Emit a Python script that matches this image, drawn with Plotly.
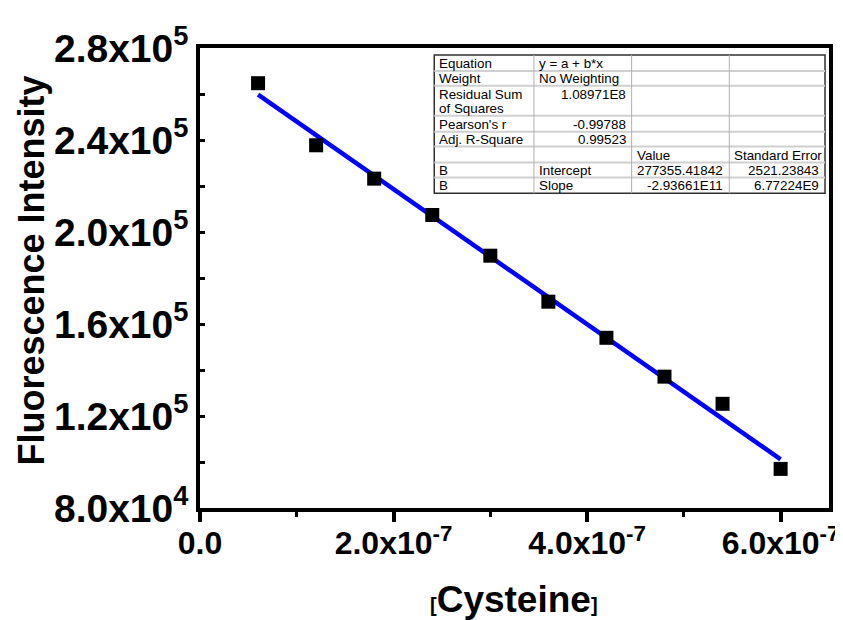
import plotly.graph_objects as go

# ---- data ----
cysteine = [0.6e-7, 1.2e-7, 1.8e-7, 2.4e-7, 3.0e-7, 3.6e-7, 4.2e-7, 4.8e-7, 5.4e-7, 6.0e-7]
intensity = [264700, 237700, 223200, 207400, 189700, 169700, 154000, 137100, 125300, 97000]

fit_intercept = 277355.41842
fit_slope = -2.93661e11

x_tickvals = [0, 2e-7, 4e-7, 6e-7]
x_ticktext = ["0.0", "2.0x10<sup>-7</sup>", "4.0x10<sup>-7</sup>", "6.0x10<sup>-7</sup>"]
y_tickvals = [8e4, 1.2e5, 1.6e5, 2.0e5, 2.4e5, 2.8e5]
y_ticktext = ["8.0x10<sup>4</sup>", "1.2x10<sup>5</sup>", "1.6x10<sup>5</sup>",
              "2.0x10<sup>5</sup>", "2.4x10<sup>5</sup>", "2.8x10<sup>5</sup>"]

table_col1 = ["Equation", "Weight", "Residual Sum", "Pearson's r", "Adj. R-Square", "", "B", "B"]
table_col2 = ["y = a + b*x", "No Weighting", "1.08971E8", "-0.99788", "0.99523", "", "Intercept", "Slope"]
table_col3 = ["", "", "", "", "", "Value", "277355.41842", "-2.93661E11"]
table_col4 = ["", "", "", "", "", "Standard Error", "2521.23843", "6.77224E9"]
table_col1_wrap = "of Squares"

# ---- layout geometry (pixels) ----
W, H = 843, 620
L, R, T, B = 192, 823, 38, 500


def px(x):
    return (x - L) / (R - L)


def py(y):
    return (B - y) / (B - T)


FONT = "Liberation Sans, Arial, Helvetica, sans-serif"

fig = go.Figure()

fit_x = [cysteine[0], cysteine[-1]]
fit_y = [fit_intercept + fit_slope * v for v in fit_x]
fig.add_trace(go.Scatter(x=fit_x, y=fit_y, mode="lines",
                         line=dict(color="#0000ff", width=4.5), showlegend=False))
fig.add_trace(go.Scatter(x=cysteine, y=intensity, mode="markers",
                         marker=dict(symbol="square", size=14, color="black"),
                         showlegend=False))

fig.update_layout(
    width=W, height=H,
    margin=dict(l=L, r=W - R, t=T, b=H - B),
    paper_bgcolor="white", plot_bgcolor="white",
    font=dict(family=FONT, color="black"),
    showlegend=False,
)

fig.update_xaxes(
    range=[0, 6.5e-7], tickmode="array", tickvals=x_tickvals, ticktext=x_ticktext,
    showgrid=False, zeroline=False, showline=True, linecolor="black", linewidth=3.5, mirror=True,
    ticks="outside", ticklen=10, tickwidth=3.5, tickcolor="black",
    minor=dict(tickmode="linear", tick0=0, dtick=1e-7, ticks="outside", ticklen=5, tickwidth=3, tickcolor="black"),
    tickfont=dict(family=FONT, size=32, color="black", weight="bold"),
    ticklabeloverflow="allow", ticklabelstandoff=-6,
)
fig.update_yaxes(
    range=[8e4, 2.8e5], tickmode="array", tickvals=y_tickvals, ticktext=y_ticktext,
    showgrid=False, zeroline=False, showline=True, linecolor="black", linewidth=3.5, mirror=True,
    ticks="inside", ticklen=5, tickwidth=3, tickcolor="black",
    minor=dict(tickmode="linear", tick0=8e4, dtick=2e4, ticks="inside", ticklen=5, tickwidth=3, tickcolor="black"),
    tickfont=dict(family=FONT, size=39, color="black", weight="bold"),
    ticklabeloverflow="allow",
)

annotations = []
# axis titles
annotations.append(dict(
    text="Fluorescence Intensity", xref="paper", yref="paper", x=px(22), y=py(262),
    textangle=-90, showarrow=False, xanchor="center", yanchor="middle",
    font=dict(family=FONT, size=36, color="black", weight="bold")))
annotations.append(dict(
    text="<span style='font-size:20px'>[</span>Cysteine<span style='font-size:20px'>]</span>",
    xref="paper", yref="paper", x=px(507), y=py(592), showarrow=False,
    xanchor="center", yanchor="middle",
    font=dict(family=FONT, size=37, color="black", weight="bold")))

# ---- fit-result table ----
col_edges = [427, 527, 625, 723, 819]
row_edges = [45, 61, 76, 106, 122, 137, 153, 168, 184]
shapes = []
shapes.append(dict(type="rect", xref="paper", yref="paper",
                   x0=px(col_edges[0]), x1=px(col_edges[-1]), y0=py(row_edges[0]), y1=py(row_edges[-1]),
                   fillcolor="white", line=dict(color="#303030", width=1.5), layer="above"))
for yv in row_edges[1:-1]:
    shapes.append(dict(type="line", xref="paper", yref="paper",
                       x0=px(col_edges[0]), x1=px(col_edges[-1]), y0=py(yv), y1=py(yv),
                       line=dict(color="#d0d0d0", width=2), layer="above"))
for xv in col_edges[1:-1]:
    shapes.append(dict(type="line", xref="paper", yref="paper",
                       x0=px(xv), x1=px(xv), y0=py(row_edges[0]), y1=py(row_edges[-1]),
                       line=dict(color="#b0b0b0", width=1), layer="above"))


def is_num(s):
    try:
        float(s)
        return True
    except ValueError:
        return False


TFONT = dict(family=FONT, size=13.4, color="black")
for ci, col in enumerate([table_col1, table_col2, table_col3, table_col4]):
    for ri, txt in enumerate(col):
        if not txt:
            continue
        top, bot = row_edges[ri], row_edges[ri + 1]
        ymid = top + 8 if bot - top > 20 else (top + bot) / 2
        if is_num(txt):
            xpos, anchor = col_edges[ci + 1] - 4, "right"
        else:
            xpos, anchor = col_edges[ci] + 3, "left"
        annotations.append(dict(
            text=txt, xref="paper", yref="paper", x=px(xpos), y=py(ymid + 0.5),
            xanchor=anchor, yanchor="middle", showarrow=False, align=anchor, font=TFONT))
# second line of the tall row
annotations.append(dict(
    text=table_col1_wrap, xref="paper", yref="paper", x=px(col_edges[0] + 3), y=py(row_edges[2] + 23),
    xanchor="left", yanchor="middle", showarrow=False, align="left", font=TFONT))

fig.update_layout(annotations=annotations, shapes=shapes)

fig.write_html("out.html")
